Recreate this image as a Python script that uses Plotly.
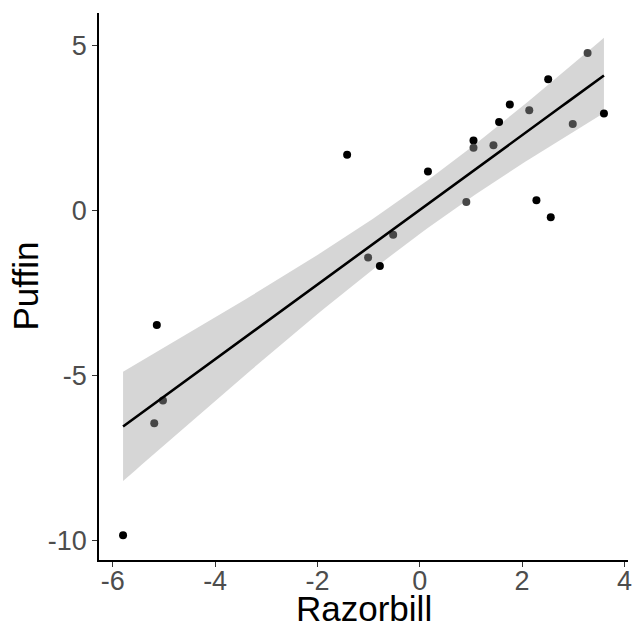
import numpy as np
import plotly.graph_objects as go

# Razorbill vs Puffin anomalies
razorbill = [-5.80, -5.14, -5.02, -5.19, -1.42, -1.01, -0.78, -0.52, 0.16, 0.91, 1.05,
             1.05, 1.44, 1.55, 1.76, 2.14, 2.28, 2.51, 2.56, 2.99, 3.28, 3.60]
puffin = [-9.85, -3.47, -5.76, -6.45, 1.70, -1.42, -1.68, -0.73, 1.19, 0.26, 2.13,
          1.91, 1.99, 2.69, 3.22, 3.05, 0.32, 3.99, -0.20, 2.63, 4.79, 2.95]
shade = ["dark", "dark", "grey", "grey", "dark", "grey", "dark", "grey", "dark", "grey", "dark",
         "grey", "grey", "dark", "dark", "grey", "dark", "dark", "dark", "grey", "grey", "dark"]

x_ticks = [-6, -4, -2, 0, 2, 4]
x_tick_labels = ["-6", "-4", "-2", "0", "2", "4"]
y_ticks = [-10, -5, 0, 5]
y_tick_labels = ["-10", "-5", "0", "5"]

x = np.array(razorbill)
y = np.array(puffin)
n = len(x)

# ordinary least squares fit with a 95% confidence band for the mean
slope, intercept = np.polyfit(x, y, 1)
resid = y - (intercept + slope * x)
s = np.sqrt(np.sum(resid ** 2) / (n - 2))
t_crit = 2.086  # Student t, 0.975 quantile, df = 20
xs = np.linspace(x.min(), x.max(), 80)
fit = intercept + slope * xs
se = s * np.sqrt(1.0 / n + (xs - x.mean()) ** 2 / np.sum((x - x.mean()) ** 2))
lo = fit - t_crit * se
hi = fit + t_crit * se

fig = go.Figure()
fig.add_trace(go.Scatter(
    x=np.concatenate([xs, xs[::-1]]), y=np.concatenate([hi, lo[::-1]]),
    fill="toself", fillcolor="rgba(153,153,153,0.4)", line=dict(width=0),
    hoverinfo="skip", showlegend=False))

colours = {"dark": "#000000", "grey": "#474747"}
for key, col in colours.items():
    idx = [i for i, sh in enumerate(shade) if sh == key]
    fig.add_trace(go.Scatter(
        x=[razorbill[i] for i in idx], y=[puffin[i] for i in idx], mode="markers",
        marker=dict(color=col, size=8, line=dict(width=0)), showlegend=False))

fig.add_trace(go.Scatter(x=xs, y=fit, mode="lines",
                         line=dict(color="black", width=2.6), showlegend=False))

# ggplot-style 5% expansion around data and band
xmin, xmax = x.min(), x.max()
ymin, ymax = min(y.min(), lo.min()), max(y.max(), hi.max())
dx, dy = xmax - xmin, ymax - ymin
xr = [xmin - 0.05 * dx, xmax + 0.05 * dx]
yr = [ymin - 0.05 * dy, ymax + 0.05 * dy]

axis_common = dict(showline=True, linecolor="black", linewidth=1.5, ticks="outside",
                   ticklen=5, tickwidth=1.3, tickcolor="#333333", showgrid=False,
                   zeroline=False, mirror=False, automargin=False,
                   tickfont=dict(family="Liberation Sans, Arial", size=27, color="#4d4d4d"))

title_font = dict(family="Liberation Sans, Arial", size=35, color="black")

fig.update_layout(
    width=633, height=628,
    margin=dict(l=99, r=5, t=13, b=68),
    plot_bgcolor="white", paper_bgcolor="white",
    xaxis=dict(range=xr, tickvals=x_ticks, ticktext=x_tick_labels,
               ticklabelstandoff=-9, **axis_common),
    yaxis=dict(range=yr, tickvals=y_ticks, ticktext=y_tick_labels, **axis_common),
    annotations=[
        dict(text="Razorbill", xref="paper", yref="paper", x=0.5, y=0,
             xanchor="center", yanchor="middle", yshift=-48, showarrow=False,
             font=title_font),
        dict(text="Puffin", xref="paper", yref="paper", x=0, y=0.5,
             xanchor="center", yanchor="middle", xshift=-74, textangle=-90,
             showarrow=False, font=title_font),
    ],
)

fig.write_html("out.html")
